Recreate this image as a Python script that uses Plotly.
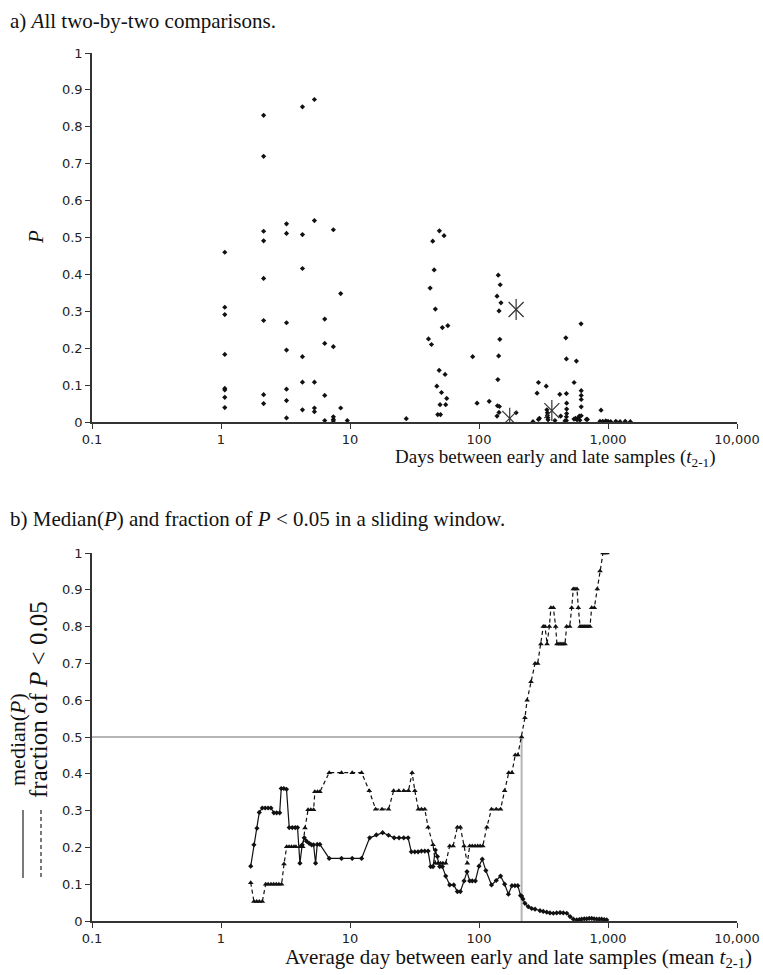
import plotly.graph_objects as go

# ---------------- data: panel a (all pairwise comparisons) ----------------
days_a = [1.07]*8 + [2.14]*8 + [3.22]*7 + [4.28]*6 + [5.30]*5 + [6.37]*4 + [7.43]*5 + [8.47]*2 + [9.53, 27.3] + \
    [49.3, 53.6, 43.8, 44.9, 41.8, 45.9, 52.0, 57.3, 40.6, 42.8, 49.1, 54.6, 47.1, 51.2, 56.2, 49.9, 55.2, 47.9, 50.3] + \
    [89.3, 96.6, 120, 141, 146, 138, 148, 143, 145, 142, 140, 139, 144, 143, 138, 194] + \
    [262, 289, 282, 289, 294, 332, 336, 339, 339, 341, 343, 388, 423, 430, 464, 471, 476, 476, 478, 478, 478, 476, 476,
     569, 546, 618, 620, 620, 620, 620, 620, 600, 545, 560, 575, 590, 605, 679, 692, 883, 867, 910, 960, 1000, 1050,
     1150, 1240, 1360, 1490]
p_a = [0.46, 0.311, 0.291, 0.183, 0.091, 0.087, 0.067, 0.039,
       0.831, 0.72, 0.517, 0.491, 0.389, 0.275, 0.074, 0.05,
       0.537, 0.511, 0.269, 0.195, 0.089, 0.058, 0.011,
       0.854, 0.508, 0.416, 0.177, 0.108, 0.033,
       0.874, 0.546, 0.108, 0.038, 0.028,
       0.279, 0.213, 0.072, 0.004,
       0.521, 0.204, 0.014, 0.007, 0.003,
       0.348, 0.038,
       0.004, 0.009,
       0.518, 0.505, 0.49, 0.412, 0.363, 0.306, 0.256, 0.261, 0.225, 0.21, 0.14, 0.129, 0.097, 0.08, 0.064, 0.047, 0.047,
       0.02, 0.02,
       0.177, 0.051, 0.056, 0.398, 0.372, 0.341, 0.323, 0.301, 0.224, 0.179, 0.115, 0.044, 0.042, 0.026, 0.016, 0.025,
       0.001, 0.107, 0.078, 0.007, 0.01, 0.097, 0.033, 0.025, 0.018, 0.012, 0.006, 0.004, 0.075, 0.016, 0.003, 0.228,
       0.171, 0.077, 0.051, 0.035, 0.023, 0.014, 0.004,
       0.165, 0.107, 0.266, 0.085, 0.072, 0.061, 0.041, 0.017, 0.016, 0.008, 0.01, 0.006, 0.012, 0.005, 0.007, 0.007,
       0.032, 0.002, 0.002, 0.003, 0.002, 0.001, 0.002, 0.001, 0.002, 0.001]

# highlighted comparisons (asterisks)
days_star = [194, 173, 367]
p_star = [0.305, 0.010, 0.031]

# ---------------- data: panel b (sliding window) ----------------
median_days = [1.70, 1.80, 1.90, 1.98, 2.09, 2.20, 2.32, 2.44, 2.57, 2.70, 2.85, 2.93, 3.07, 3.22, 3.38, 3.57, 3.76,
               3.92, 4.09, 4.26, 4.42, 4.60, 4.83, 5.04, 5.22, 5.41, 5.57, 5.84, 6.90, 8.59, 10.4, 12.3, 14.2, 16.0,
               17.9, 19.9, 22.0, 24.0, 26.1, 28.2, 29.9, 31.8, 33.7, 35.8, 38.0, 40.3, 42.2, 44.0, 45.9, 47.6, 49.6,
               52.0, 55.2, 59.3, 63.7, 68.0, 71.7, 76.6, 80.7, 84.7, 88.7, 93.7, 100, 106, 113, 125, 136, 147, 158,
               169, 180, 190, 200, 210, 214, 219, 227, 241, 256, 272, 297, 315, 335, 355, 377, 400, 425, 450, 479,
               508, 539, 572, 600, 625, 655, 684, 715, 748, 780, 817, 855, 893, 935, 977]
median_p = [0.149, 0.207, 0.252, 0.295, 0.307, 0.307, 0.307, 0.307, 0.294, 0.294, 0.294, 0.360, 0.360, 0.358, 0.254,
            0.254, 0.254, 0.254, 0.157, 0.207, 0.226, 0.217, 0.211, 0.207, 0.207, 0.157, 0.208, 0.208, 0.170, 0.170,
            0.170, 0.170, 0.226, 0.234, 0.240, 0.233, 0.226, 0.226, 0.226, 0.226, 0.188, 0.188, 0.188, 0.190, 0.190,
            0.190, 0.148, 0.148, 0.193, 0.175, 0.148, 0.148, 0.122, 0.098, 0.098, 0.080, 0.080, 0.109, 0.134, 0.109,
            0.109, 0.109, 0.149, 0.168, 0.137, 0.098, 0.110, 0.122, 0.100, 0.073, 0.096, 0.096, 0.096, 0.069, 0.068,
            0.060, 0.048, 0.039, 0.034, 0.032, 0.028, 0.026, 0.024, 0.022, 0.021, 0.022, 0.023, 0.022, 0.021, 0.012,
            0.005, 0.003, 0.004, 0.005, 0.006, 0.006, 0.007, 0.007, 0.006, 0.005, 0.005, 0.005, 0.004, 0.003]

frac_days = [1.70, 1.80, 1.89, 1.98, 2.09, 2.22, 2.32, 2.44, 2.56, 2.68, 2.81, 2.95, 3.08, 3.23, 3.37, 3.52, 3.68,
             3.81, 4.10, 4.30, 4.48, 4.73, 4.97, 5.22, 5.34, 5.60, 5.84, 6.90, 8.59, 10.4, 12.3, 14.1, 15.8, 17.7,
             19.9, 21.8, 23.9, 26.1, 28.4, 30.3, 31.8, 33.9, 35.8, 38.0, 40.3, 44.0, 45.9, 48.1, 50.2, 52.5, 55.2,
             59.3, 63.0, 68.0, 71.7, 76.6, 81.2, 84.7, 88.7, 93.2, 97.7, 102, 107, 115, 125, 136, 147, 158, 170, 180,
             191, 200, 214, 227, 236, 253, 272, 285, 302, 315, 325, 337, 351, 361, 377, 393, 402, 417, 432, 448, 464,
             478, 505, 523, 538, 555, 575, 589, 607, 629, 652, 675, 700, 725, 747, 783, 826, 867, 915, 948, 982]
frac_p = [0.104, 0.053, 0.053, 0.053, 0.053, 0.100, 0.100, 0.100, 0.100, 0.100, 0.100, 0.100, 0.155, 0.202, 0.202,
          0.202, 0.202, 0.202, 0.202, 0.202, 0.253, 0.302, 0.302, 0.302, 0.351, 0.351, 0.351, 0.403, 0.403, 0.403,
          0.403, 0.354, 0.304, 0.304, 0.304, 0.354, 0.354, 0.354, 0.354, 0.403, 0.354, 0.304, 0.304, 0.304, 0.255,
          0.207, 0.157, 0.157, 0.157, 0.157, 0.157, 0.204, 0.204, 0.255, 0.255, 0.204, 0.157, 0.204, 0.204, 0.204,
          0.204, 0.204, 0.204, 0.255, 0.304, 0.304, 0.304, 0.354, 0.403, 0.403, 0.451, 0.451, 0.500, 0.552, 0.600,
          0.650, 0.700, 0.700, 0.753, 0.800, 0.800, 0.753, 0.800, 0.851, 0.851, 0.800, 0.753, 0.753, 0.753, 0.753,
          0.753, 0.800, 0.800, 0.851, 0.902, 0.902, 0.902, 0.851, 0.800, 0.800, 0.800, 0.800, 0.800, 0.800, 0.851,
          0.851, 0.902, 0.951, 1.0, 1.0, 1.0]

# day where the fraction of P<0.05 reaches 0.5
threshold_day = 214
threshold_frac = 0.5

x_tickvals = [0.1, 1, 10, 100, 1000, 10000]
x_ticktext = ["0.1", "1", "10", "100", "1,000", "10,000"]
y_tickvals = [0, 0.1, 0.2, 0.3, 0.4, 0.5, 0.6, 0.7, 0.8, 0.9, 1]
y_ticktext = ["0", "0.1", "0.2", "0.3", "0.4", "0.5", "0.6", "0.7", "0.8", "0.9", "1"]

# ---------------- figure ----------------
W, H = 763, 975
def px_x(p): return p / W
def px_y(p): return (H - p) / H

SERIF = "Liberation Serif, Times New Roman, serif"
SANS = "DejaVu Sans, Verdana, sans-serif"
AX = "#333333"

fig = go.Figure()

fig.add_trace(go.Scatter(x=days_a, y=p_a, mode="markers", xaxis="x", yaxis="y",
                         marker=dict(symbol="diamond", size=4, color="#111111"), showlegend=False))
fig.add_trace(go.Scatter(x=days_star, y=p_star, mode="markers", xaxis="x", yaxis="y",
                         marker=dict(symbol="x-thin-open", size=15, color="#333333", line=dict(width=1.2, color="#333333")),
                         showlegend=False))
fig.add_trace(go.Scatter(x=days_star, y=p_star, mode="markers", xaxis="x", yaxis="y",
                         marker=dict(symbol="line-ns-open", size=15, color="#333333", line=dict(width=1.2, color="#333333")),
                         showlegend=False))

# reference lines in panel b
fig.add_trace(go.Scatter(x=[0.1, threshold_day, threshold_day], y=[threshold_frac, threshold_frac, 0],
                         mode="lines", xaxis="x2", yaxis="y2", line=dict(color="#b5b5b5", width=2),
                         showlegend=False))

fig.add_trace(go.Scatter(x=frac_days, y=frac_p, mode="lines+markers", xaxis="x2", yaxis="y2",
                         line=dict(color="#111111", width=1.2, dash="4px,3px"),
                         marker=dict(symbol="triangle-up", size=5, color="#111111"), showlegend=False))
fig.add_trace(go.Scatter(x=median_days, y=median_p, mode="lines+markers", xaxis="x2", yaxis="y2",
                         line=dict(color="#111111", width=1.2),
                         marker=dict(symbol="diamond", size=4, color="#111111"), showlegend=False))

xdom = [px_x(92), px_x(737)]
common_x = dict(type="log", range=[-1, 4], tickvals=x_tickvals, ticktext=x_ticktext, showgrid=False,
                zeroline=False, showline=True, linecolor=AX, linewidth=1.5, ticks="outside", ticklen=5,
                tickcolor=AX, tickwidth=1.2, tickfont=dict(family=SANS, size=13, color="#222222"),
                automargin=False, domain=xdom, ticklabeloverflow="allow")
common_y = dict(range=[0, 1], tickvals=y_tickvals, ticktext=y_ticktext, showgrid=False, zeroline=False,
                showline=True, linecolor=AX, linewidth=1.5, ticks="outside", ticklen=5, tickcolor=AX,
                tickwidth=1.2, tickfont=dict(family=SANS, size=13, color="#222222"), automargin=False)

fig.update_layout(
    width=W, height=H, margin=dict(l=0, r=0, t=0, b=0), autosize=False,
    paper_bgcolor="white", plot_bgcolor="white", showlegend=False,
    xaxis=dict(**common_x, anchor="y"),
    yaxis=dict(**common_y, domain=[px_y(422), px_y(53)], anchor="x"),
    xaxis2=dict(**common_x, anchor="y2"),
    yaxis2=dict(**common_y, domain=[px_y(921), px_y(553)], anchor="x2"),
)

ann = []
def text(t, x, y, size=21, xanchor="left", yanchor="middle", angle=0):
    ann.append(dict(text=t, x=px_x(x), y=px_y(y), xref="paper", yref="paper", showarrow=False,
                    xanchor=xanchor, yanchor=yanchor, textangle=angle,
                    font=dict(family=SERIF, size=size, color="#111111")))

text("a) <i>A</i>ll two-by-two comparisons.", 8, 21)
text("Days between early and late samples (<i>t</i><sub>2-1</sub>)", 718, 458, size=19, xanchor="right")
text("<i>P</i>", 36, 237, xanchor="center", angle=-90)
text("b) Median(<i>P</i>) and fraction of <i>P</i> &lt; 0.05 in a sliding window.", 8, 519)
text("Average day between early and late samples (mean <i>t</i><sub>2-1</sub>)", 754, 958, xanchor="right")
text("median(<i>P</i>)", 17, 740, size=22, xanchor="center", angle=-90)
text("fraction of <i>P</i> &lt; 0.05", 38, 700, size=25, xanchor="center", angle=-90)
fig.update_layout(annotations=ann)

# legend line samples beside the rotated axis labels
fig.add_shape(type="line", xref="paper", yref="paper", x0=px_x(23), x1=px_x(23), y0=px_y(810), y1=px_y(878),
              line=dict(color="#222222", width=1.2))
fig.add_shape(type="line", xref="paper", yref="paper", x0=px_x(41), x1=px_x(41), y0=px_y(810), y1=px_y(878),
              line=dict(color="#222222", width=1.2, dash="4px,3px"))

fig.write_html("out.html", config={"displayModeBar": False},
               post_script="document.body.style.margin='0';document.body.style.overflow='hidden';")
